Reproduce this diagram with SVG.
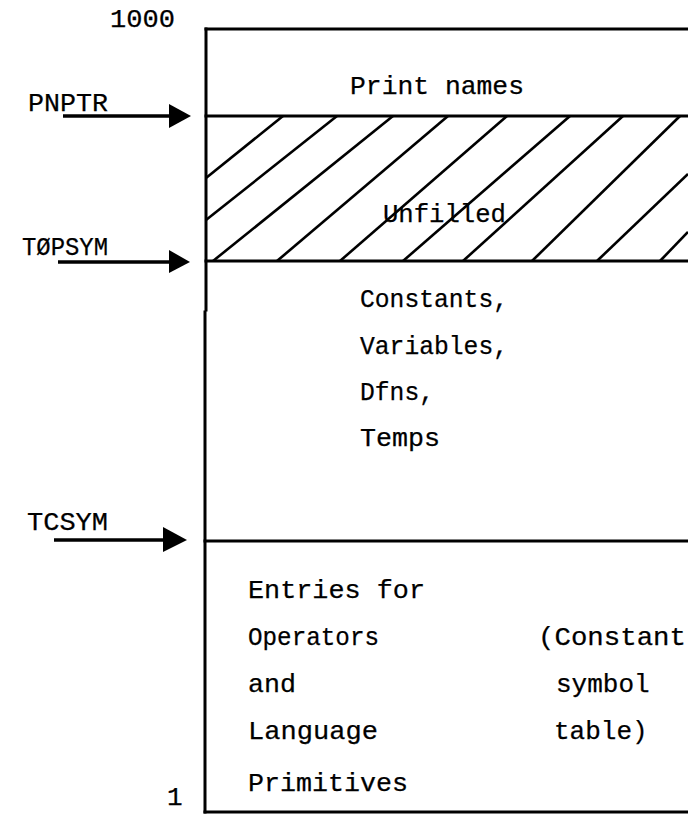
<svg xmlns="http://www.w3.org/2000/svg" width="688" height="814" viewBox="0 0 688 814">
<style>
  text { font-family: "Liberation Mono", "Courier New", monospace; font-size: 26px; fill: #000; stroke: #000; stroke-width: 0.25; }
  .edge { stroke: #000; stroke-width: 3; fill: none; stroke-linecap: square; }
  .hatch { stroke: #000; stroke-width: 2.6; fill: none; }
  .arrow { stroke: #000; stroke-width: 3.5; fill: none; }
  .head { fill: #000; stroke: none; }
</style>
<rect width="688" height="814" fill="#fff"/>

<g id="memory-frame">
  <line class="edge" x1="206" y1="29" x2="688" y2="29"/>
  <line class="edge" x1="206" y1="29" x2="206" y2="310"/>
  <line class="edge" x1="205" y1="312" x2="205" y2="812"/>
  <line class="edge" x1="205" y1="812" x2="688" y2="812"/>
</g>

<g id="print-names">
  <text x="350" y="94" textLength="174" lengthAdjust="spacingAndGlyphs">Print names</text>
</g>

<g id="unfilled">
  <line class="edge" x1="206" y1="116" x2="688" y2="116"/>
  <line class="edge" x1="206" y1="261" x2="688" y2="261"/>
  <g class="hatch">
    <line x1="206" y1="178" x2="283" y2="116"/>
    <line x1="206" y1="220" x2="337" y2="116"/>
    <line x1="213" y1="261" x2="393" y2="116"/>
    <line x1="277" y1="261" x2="448" y2="116"/>
    <line x1="340" y1="261" x2="507" y2="116"/>
    <line x1="403" y1="261" x2="570" y2="116"/>
    <line x1="463" y1="261" x2="623" y2="116"/>
    <line x1="532" y1="261" x2="680" y2="116"/>
    <line x1="597" y1="261" x2="688" y2="174"/>
    <line x1="660" y1="261" x2="688" y2="232"/>
  </g>
  <text x="383" y="222" textLength="123" lengthAdjust="spacingAndGlyphs">Unfilled</text>
</g>

<g id="variables">
  <text x="360" y="307" textLength="148" lengthAdjust="spacingAndGlyphs">Constants,</text>
  <text x="360" y="354" textLength="148" lengthAdjust="spacingAndGlyphs">Variables,</text>
  <text x="360" y="400" textLength="74" lengthAdjust="spacingAndGlyphs">Dfns,</text>
  <text x="360" y="446" textLength="80" lengthAdjust="spacingAndGlyphs">Temps</text>
</g>

<g id="constant-symbol-table">
  <line class="edge" x1="205" y1="541" x2="688" y2="541"/>
  <text x="248" y="598" textLength="177" lengthAdjust="spacingAndGlyphs">Entries for</text>
  <text x="248" y="645" textLength="131" lengthAdjust="spacingAndGlyphs">Operators</text>
  <text x="248" y="692" textLength="48" lengthAdjust="spacingAndGlyphs">and</text>
  <text x="248" y="739" textLength="130" lengthAdjust="spacingAndGlyphs">Language</text>
  <text x="248" y="791" textLength="160" lengthAdjust="spacingAndGlyphs">Primitives</text>
  <text x="538" y="645" textLength="148" lengthAdjust="spacingAndGlyphs">(Constant</text>
  <text x="556" y="692">symbol</text>
  <text x="554" y="739">table)</text>
</g>

<g id="address-labels">
  <text x="110" y="27" textLength="65" lengthAdjust="spacingAndGlyphs">1000</text>
  <text x="167" y="805">1</text>
</g>

<g id="pointer-labels">
  <text x="28" y="111" textLength="80" lengthAdjust="spacingAndGlyphs">PNPTR</text>
  <text x="22" y="255" textLength="86" lengthAdjust="spacingAndGlyphs">TØPSYM</text>
  <text x="27" y="530" textLength="81" lengthAdjust="spacingAndGlyphs">TCSYM</text>
</g>

<g id="connectors">
  <line class="arrow" x1="63" y1="116" x2="172" y2="116"/>
  <polygon class="head" points="169,104 191,116 169,128"/>
  <line class="arrow" x1="58" y1="262" x2="172" y2="262"/>
  <polygon class="head" points="169,250 190,262 169,273"/>
  <line class="arrow" x1="54" y1="540" x2="166" y2="540"/>
  <polygon class="head" points="163,527 187,540 163,552"/>
</g>
</svg>
